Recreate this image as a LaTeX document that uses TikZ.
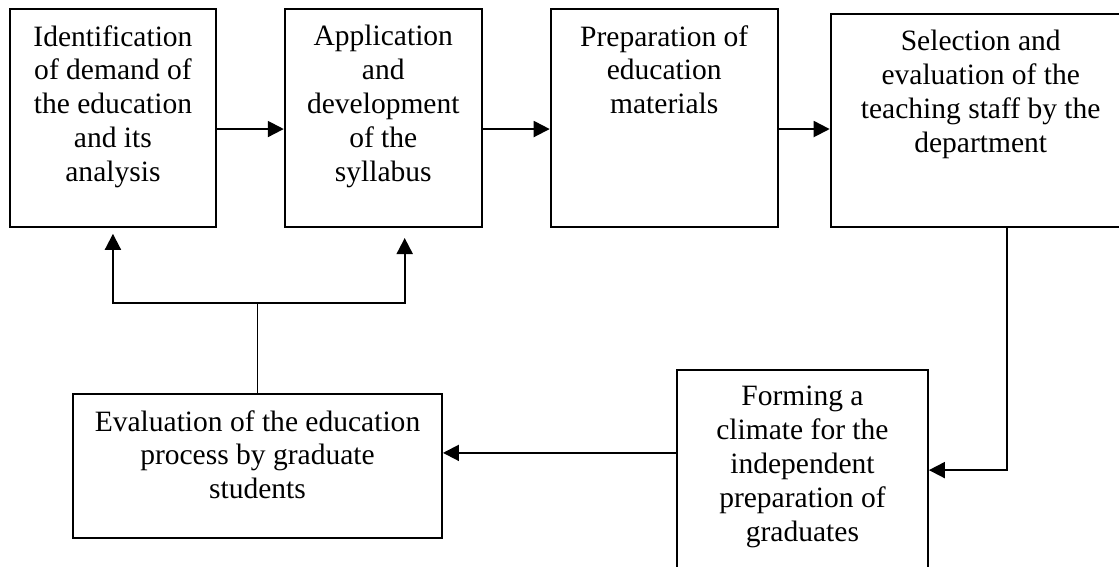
\documentclass[tikz,border=0pt]{standalone}
\usepackage{fontspec}
\setmainfont{Liberation Serif}
\usepackage{tikz}
\usetikzlibrary{positioning, arrows.meta}
\tikzstyle{stage} = [rectangle, draw, line width=0.8pt, inner sep=0pt]
\tikzstyle{stagetext} = [align=center, anchor=north, yshift=-6.8pt, inner sep=0pt,
    font=\fontsize{12}{13.8}\selectfont]
\tikzstyle{line} = [draw, line width=0.8pt, -{Triangle[length=6.5pt, width=6.5pt]}]
\tikzstyle{link} = [draw, line width=0.8pt]

\begin{document}
\begin{tikzpicture}[x=0.4065pt, y=-0.4065pt]
        \useasboundingbox (0,0) rectangle (1119,567);
        % Place nodes
        \node [stage, minimum width=83.7pt, minimum height=88.6pt, anchor=north west,
            label={[stagetext]north:{Identification\\of demand of\\the education\\and its\\analysis}}] (demand) at (9,8) {};
        \node [stage, minimum width=80.1pt, minimum height=88.6pt, right=27.2pt of demand.north east, anchor=north west,
            label={[stagetext]north:{Application\\and\\development\\of the\\syllabus}}] (syllabus) {};
        \node [stage, minimum width=92.3pt, minimum height=88.6pt, right=27.2pt of syllabus.north east, anchor=north west,
            label={[stagetext]north:{Preparation of\\education\\materials}}] (materials) {};
        \node [stage, minimum width=122pt, minimum height=86.6pt, right=20.7pt of materials.north east, anchor=north west, yshift=-2pt,
            label={[stagetext]north:{Selection and\\evaluation of the\\teaching staff by the\\department}}] (staff) {};
        \node [stage, minimum width=102pt, minimum height=94pt, anchor=north west,
            label={[stagetext]north:{Forming a\\climate for the\\independent\\preparation of\\graduates}}] (climate) at (676,369) {};
        \node [stage, minimum width=150pt, minimum height=58.5pt, anchor=north west,
            label={[stagetext]north:{Evaluation of the education\\process by graduate\\students}}] (evaluation) at (72,393) {};
        \coordinate (split) at (evaluation.north |- 0,303);
        % Draw edges
        \path [line] ([yshift=-4.5pt]demand.east) -- ([yshift=-4.5pt]demand.east -| syllabus.west);
        \path [line] ([yshift=-4.5pt]syllabus.east) -- ([yshift=-4.5pt]syllabus.east -| materials.west);
        \path [line] ([yshift=-4.5pt]materials.east) -- ([yshift=-4.5pt]materials.east -| staff.west);
        \path [line] ([xshift=10.6pt]staff.south) |- ([yshift=-41.1pt]climate.north east);
        \path [line] ([yshift=-34.1pt]climate.north west) -- ([yshift=-34.1pt]climate.north west -| evaluation.east);
        \path [link] (evaluation.north) -- (split);
        \path [line] (split) -| ([yshift=-2.4pt]demand.south);
        \path [line] (split) -| ([xshift=8.7pt, yshift=-4.1pt]syllabus.south);
    \end{tikzpicture}
\end{document}
